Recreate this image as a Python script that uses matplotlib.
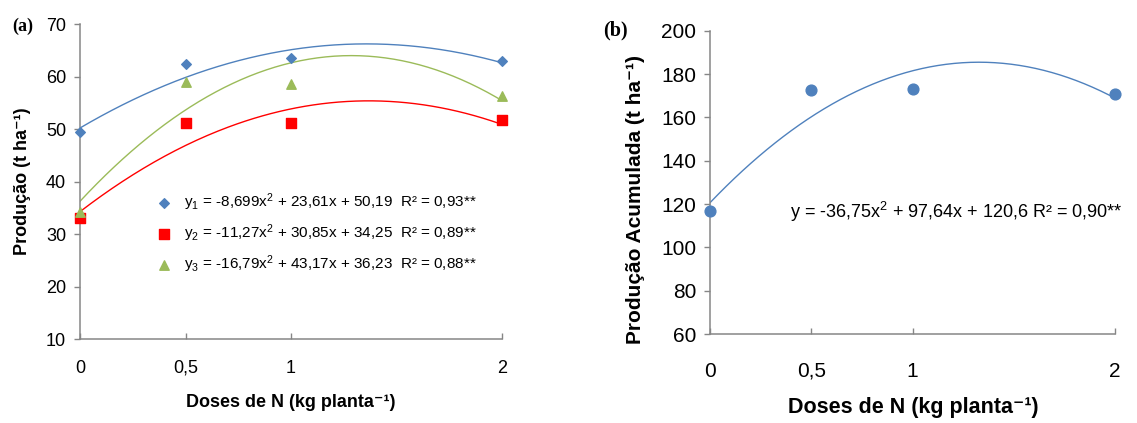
import numpy as np
import matplotlib.pyplot as plt

plt.rcParams['font.family'] = ['Liberation Sans', 'DejaVu Sans']
plt.rcParams['mathtext.fontset'] = 'custom'
plt.rcParams['mathtext.rm'] = 'Liberation Sans'
plt.rcParams['mathtext.it'] = 'Liberation Sans:italic'
plt.rcParams['mathtext.bf'] = 'Liberation Sans:bold'

# doses de N (kg planta-1)
doses = [0, 0.5, 1, 2]
dose_labels = ['0', '0,5', '1', '2']

# (a) producao por colheita
y1 = [49.5, 62.3, 63.5, 63.0]
y2 = [33.0, 51.2, 51.2, 51.7]
y3 = [34.2, 59.0, 58.6, 56.3]
coef1 = [-8.699, 23.61, 50.19]
coef2 = [-11.27, 30.85, 34.25]
coef3 = [-16.79, 43.17, 36.23]
eq1 = r'y$_1$ = -8,699x$^2$ + 23,61x + 50,19  R² = 0,93**'
eq2 = r'y$_2$ = -11,27x$^2$ + 30,85x + 34,25  R² = 0,89**'
eq3 = r'y$_3$ = -16,79x$^2$ + 43,17x + 36,23  R² = 0,88**'

# (b) producao acumulada
acum = [116.8, 172.6, 173.3, 170.6]
coef_acum = [-36.75, 97.64, 120.6]
eq_acum = r'y = -36,75x$^2$ + 97,64x + 120,6 R² = 0,90**'

BLUE = '#4F81BD'
RED = '#FF0000'
GREEN = '#9BBB59'
AXC = '#868686'

W, H = 1137, 423
fig = plt.figure(figsize=(W / 100, H / 100), dpi=100)

ax1 = fig.add_axes([80 / W, 1 - 339 / H, 422 / W, 315 / H])
ax2 = fig.add_axes([710 / W, 1 - 334 / H, 405 / W, 303.3 / H])


def style_axis(ax, fs, xpad):
    for s in ['top', 'right']:
        ax.spines[s].set_visible(False)
    for s in ['left', 'bottom']:
        ax.spines[s].set_color(AXC)
        ax.spines[s].set_linewidth(1.1)
    ax.set_xlim(0, 2)
    ax.set_xticks(doses, dose_labels)
    ax.tick_params(axis='y', direction='out', length=4, width=1, color=AXC,
                   pad=6, labelsize=fs)
    ax.tick_params(axis='x', direction='in', length=4, width=1, color=AXC,
                   pad=xpad, labelsize=fs)


xs = np.linspace(0, 2, 200)

# panel a
style_axis(ax1, 13, 15)
ax1.set_ylim(10, 70)
ax1.set_yticks(range(10, 71, 10))
ax1.plot(xs, np.polyval(coef1, xs), color=BLUE, lw=1.0)
ax1.plot(xs, np.polyval(coef3, xs), color=GREEN, lw=1.0)
ax1.plot(xs, np.polyval(coef2, xs), color=RED, lw=1.0)
h1 = ax1.scatter(doses, y1, marker='D', s=24, color=BLUE, zorder=3, clip_on=False, label=eq1)
h2 = ax1.scatter(doses, y2, marker='s', s=44, color=RED, zorder=3, clip_on=False, label=eq2)
h3 = ax1.scatter(doses, y3, marker='^', s=46, color=GREEN, zorder=3, clip_on=False, label=eq3)
ax1.legend(handles=[h1, h2, h3], loc='upper left', bbox_to_anchor=(0.182, 0.47),
           frameon=False, fontsize=11, scatterpoints=1, handlelength=1.0,
           handletextpad=0.75, labelspacing=0.62, borderpad=0, borderaxespad=0)
ax1.set_xlabel('Doses de N (kg planta⁻¹)', fontsize=13, fontweight='bold', va='center')
ax1.xaxis.set_label_coords(0.5, -0.203)
ax1.set_ylabel('Produção (t ha⁻¹)', fontsize=13, fontweight='bold', va='center')
ax1.yaxis.set_label_coords(-0.137, 0.5)

# panel b
style_axis(ax2, 15, 20)
ax2.set_ylim(60, 200)
ax2.set_yticks(range(60, 201, 20))
ax2.plot(xs, np.polyval(coef_acum, xs), color=BLUE, lw=1.0)
ax2.scatter(doses, acum, marker='o', s=60, color=BLUE, zorder=3, clip_on=False)
ax2.text(0.395, 116.5, eq_acum, fontsize=13, va='center', ha='left')
ax2.set_xlabel('Doses de N (kg planta⁻¹)', fontsize=15.5, fontweight='bold', va='center')
ax2.xaxis.set_label_coords(0.501, -0.243)
ax2.set_ylabel('Produção Acumulada (t ha⁻¹)', fontsize=15, fontweight='bold', va='center')
ax2.yaxis.set_label_coords(-0.185, 0.442)

fig.text(12 / W, 1 - 26 / H, '(a)', family='Liberation Serif', fontweight='bold',
         fontsize=13, va='center', ha='left')
fig.text(603 / W, 1 - 30 / H, '(b)', family='Liberation Serif', fontweight='bold',
         fontsize=14.5, va='center', ha='left')

fig.savefig('out.png', dpi=100)
